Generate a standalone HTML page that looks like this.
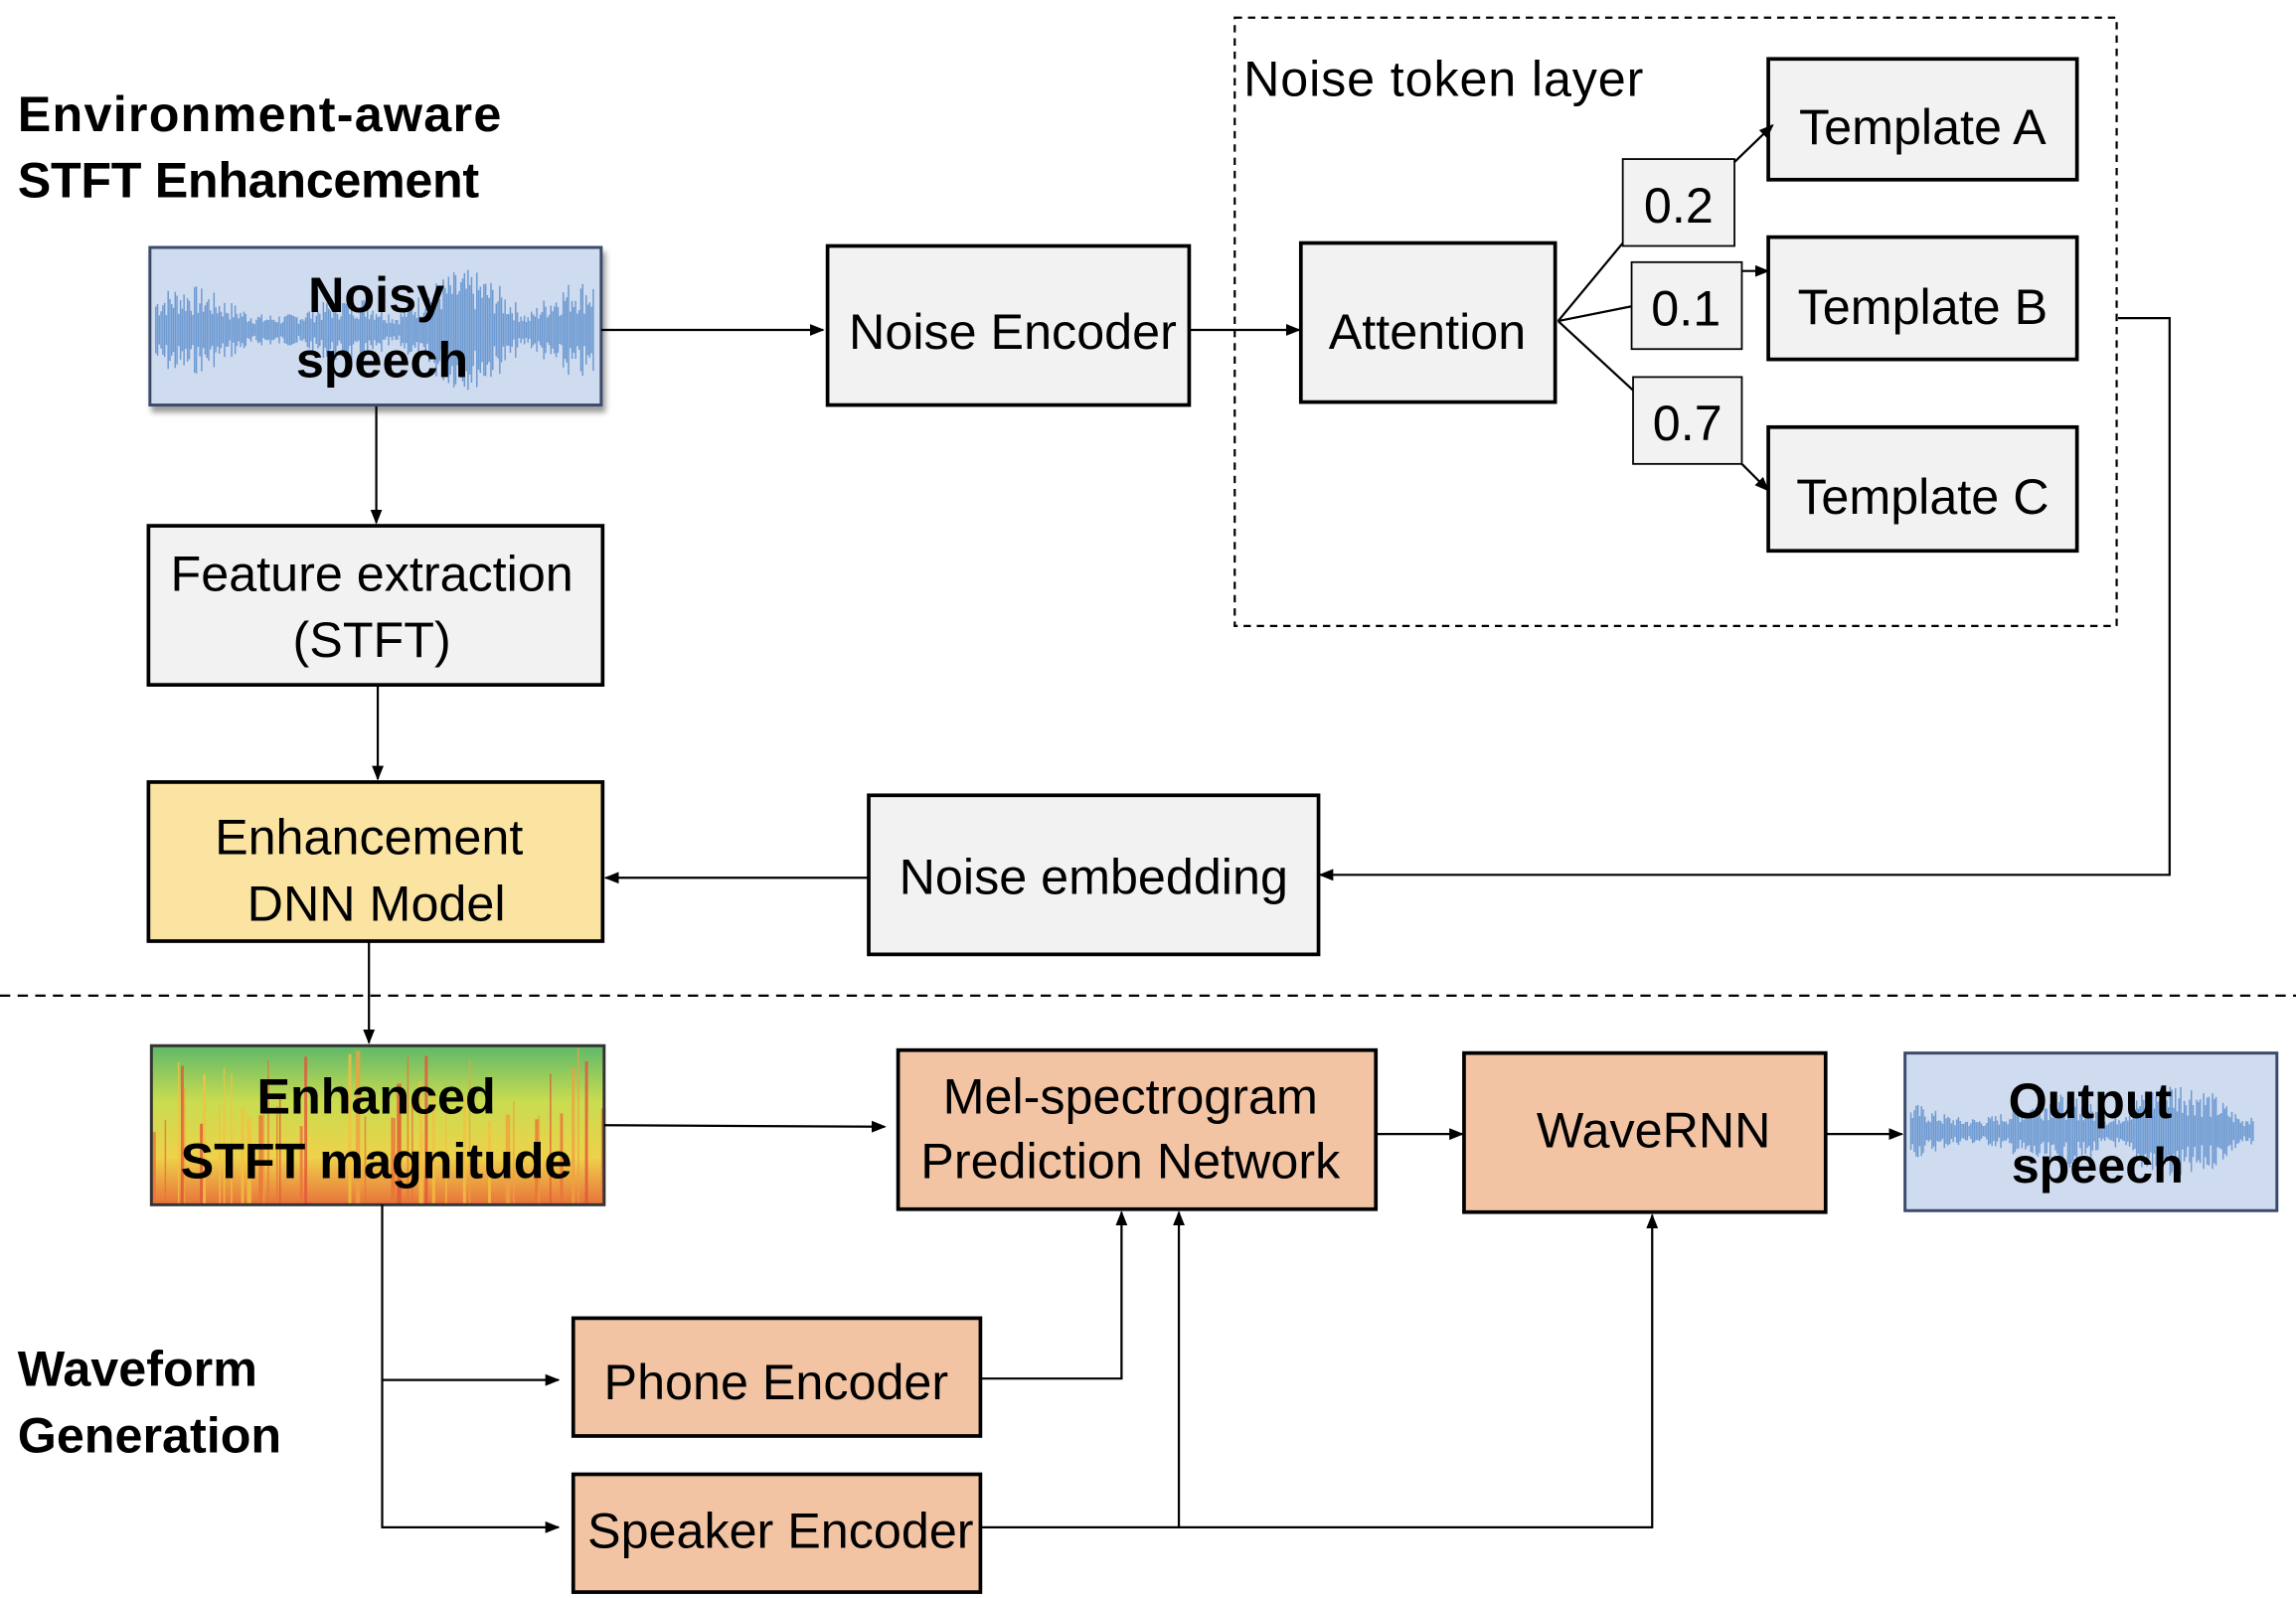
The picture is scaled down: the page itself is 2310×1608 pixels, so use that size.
<!DOCTYPE html>
<html><head><meta charset="utf-8"><style>
html,body{margin:0;padding:0;background:#fff;}
svg{display:block;}
text{font-family:"Liberation Sans",sans-serif;fill:#000;}
</style></head><body>
<svg id="s" width="2310" height="1608" viewBox="0 0 1562 1085" preserveAspectRatio="none" xmlns="http://www.w3.org/2000/svg">
<defs>
<marker id="a" markerWidth="10" markerHeight="10" refX="9" refY="5" orient="auto" markerUnits="userSpaceOnUse"><path d="M0,1 L10,5 L0,9 z" fill="#000"/></marker>
<filter id="sh"><feDropShadow dx="2" dy="4" stdDeviation="2" flood-opacity="0.4"/></filter>
<linearGradient id="sg" x1="0" y1="0" x2="0" y2="1"><stop offset="0" stop-color="#5fb86a"/><stop offset="0.35" stop-color="#c8dc50"/><stop offset="0.7" stop-color="#eed24a"/><stop offset="1" stop-color="#e8733a"/></linearGradient>
</defs>
<g stroke="#000" stroke-width="2" fill="none">
<rect x="840" y="12" width="600" height="413" stroke-width="1.5" stroke-dasharray="5,4"/>
<line x1="0" y1="676" x2="1562" y2="676" stroke-width="1.5" stroke-dasharray="7,5"/>
</g>
<text x="12" y="89" font-size="34" font-weight="bold" textLength="329">Environment-aware</text>
<text x="12" y="134" font-size="34" font-weight="bold" textLength="314">STFT Enhancement</text>
<text x="12" y="941" font-size="34" font-weight="bold">Waveform</text>
<text x="12" y="986" font-size="34" font-weight="bold">Generation</text>
<text x="846" y="65" font-size="34" textLength="272">Noise token layer</text>

<rect x="102" y="168" width="307" height="107" fill="#cfdbef" stroke="#3a4a6a" stroke-width="2" filter="url(#sh)"/>
<g id="w1"></g>
<text x="256" y="212" font-size="34" font-weight="bold" text-anchor="middle">Noisy</text>
<text x="260" y="256" font-size="34" font-weight="bold" text-anchor="middle">speech</text>

<g stroke="#000" stroke-width="2.5" fill="#f2f2f2">
<rect x="563" y="167" width="246" height="108"/>
<rect x="885" y="165" width="173" height="108"/>
<rect x="1203" y="40" width="210" height="82"/>
<rect x="1203" y="161" width="210" height="83"/>
<rect x="1203" y="290" width="210" height="84"/>
<rect x="101" y="357" width="309" height="108"/>
<rect x="591" y="540" width="306" height="108"/>
<rect x="101" y="531" width="309" height="108" fill="#fbe3a2"/>
<rect x="611" y="713" width="325" height="108" fill="#f2c4a4"/>
<rect x="996" y="715" width="246" height="108" fill="#f2c4a4"/>
<rect x="390" y="895" width="277" height="80" fill="#f2c4a4"/>
<rect x="390" y="1001" width="277" height="80" fill="#f2c4a4"/>
</g>
<g stroke="#000" stroke-width="1.2" fill="#f2f2f2">
<rect x="1104" y="108" width="76" height="59"/>
<rect x="1110" y="178" width="75" height="59"/>
<rect x="1111" y="256" width="74" height="59"/>
</g>
<g font-size="34" text-anchor="middle">
<text x="689" y="237">Noise Encoder</text>
<text x="971" y="237">Attention</text>
<text x="1308" y="98">Template A</text>
<text x="1308" y="220">Template B</text>
<text x="1308" y="349">Template C</text>
<text x="1142" y="151">0.2</text>
<text x="1147" y="221">0.1</text>
<text x="1148" y="299">0.7</text>
<text x="253" y="401">Feature extraction</text>
<text x="253" y="446">(STFT)</text>
<text x="744" y="607">Noise embedding</text>
<text x="251" y="580">Enhancement</text>
<text x="256" y="625">DNN Model</text>
<text x="769" y="756">Mel-spectrogram</text>
<text x="769" y="800">Prediction Network</text>
<text x="1125" y="779">WaveRNN</text>
<text x="528" y="950">Phone Encoder</text>
<text x="531" y="1051">Speaker Encoder</text>
</g>

<rect x="103" y="710" width="308" height="108" fill="url(#sg)"/>
<g id="sp"></g>
<rect x="103" y="710" width="308" height="108" fill="none" stroke="#333" stroke-width="2"/>
<text x="256" y="756" font-size="34" font-weight="bold" text-anchor="middle">Enhanced</text>
<text x="256" y="800" font-size="34" font-weight="bold" text-anchor="middle">STFT magnitude</text>

<rect x="1296" y="715" width="253" height="107" fill="#cfdbef" stroke="#3a4a6a" stroke-width="2"/>
<g id="w2"></g>
<text x="1422" y="759" font-size="34" font-weight="bold" text-anchor="middle">Output</text>
<text x="1427" y="803" font-size="34" font-weight="bold" text-anchor="middle">speech</text>

<g stroke="#000" stroke-width="1.5" fill="none">
<line x1="409" y1="224" x2="560" y2="224" marker-end="url(#a)"/>
<line x1="809" y1="224" x2="884" y2="224" marker-end="url(#a)"/>
<polyline points="1060,218 1104,165"/>
<polyline points="1060,218 1110,208"/>
<polyline points="1060,218 1111,265"/>
<line x1="1180" y1="110" x2="1206" y2="85" marker-end="url(#a)"/>
<line x1="1185" y1="184" x2="1203" y2="184" marker-end="url(#a)"/>
<line x1="1185" y1="315" x2="1203" y2="333" marker-end="url(#a)"/>
<polyline points="1441,216 1476,216 1476,594 898,594" marker-end="url(#a)"/>
<line x1="591" y1="596" x2="412" y2="596" marker-end="url(#a)"/>
<line x1="256" y1="276" x2="256" y2="355" marker-end="url(#a)"/>
<line x1="257" y1="465" x2="257" y2="529" marker-end="url(#a)"/>
<line x1="251" y1="639" x2="251" y2="708" marker-end="url(#a)"/>
<line x1="411" y1="764" x2="602" y2="765" marker-end="url(#a)"/>
<line x1="936" y1="770" x2="995" y2="770" marker-end="url(#a)"/>
<line x1="1242" y1="770" x2="1294" y2="770" marker-end="url(#a)"/>
<polyline points="260,818 260,1037 380,1037" marker-end="url(#a)"/>
<line x1="260" y1="937" x2="380" y2="937" marker-end="url(#a)"/>
<polyline points="667,936 763,936 763,823" marker-end="url(#a)"/>
<polyline points="667,1037 1124,1037 1124,825" marker-end="url(#a)"/>
<line x1="802" y1="1037" x2="802" y2="823" marker-end="url(#a)"/>
</g>
</svg>
<script>
(function(){
var ns="http://www.w3.org/2000/svg";var seed=7;
function r(){seed=(seed*9301+49297)%233280;return seed/233280;}
function wave(id,x0,x1,cy,amp){var g=document.getElementById(id);var d="";
for(var x=x0;x<=x1;x+=1.2){var env=0.25+0.75*Math.abs(Math.sin(x*0.035))*Math.abs(Math.sin(x*0.011+1));var h=amp*env*(0.3+0.7*r());d+="M"+x.toFixed(1)+","+(cy-h).toFixed(1)+"V"+(cy+h).toFixed(1);}
var p=document.createElementNS(ns,"path");p.setAttribute("d",d);p.setAttribute("stroke","#6d9ad2");p.setAttribute("stroke-width","1");g.appendChild(p);}
wave("w1",106,404,224,42);wave("w2",1300,1534,768,36);
var g=document.getElementById("sp");var cols=["#e8733a","#f0a040","#e2553a","#f3c040"];
for(var x=104;x<410;x+=2+Math.floor(r()*4)){if(r()<0.45){var top=710+r()*60;var e=document.createElementNS(ns,"rect");e.setAttribute("x",x);e.setAttribute("y",top);e.setAttribute("width",1+Math.floor(r()*3));e.setAttribute("height",818-top);e.setAttribute("fill",cols[Math.floor(r()*cols.length)]);e.setAttribute("opacity",0.8);g.appendChild(e);}}
})();
</script>
</body></html>
